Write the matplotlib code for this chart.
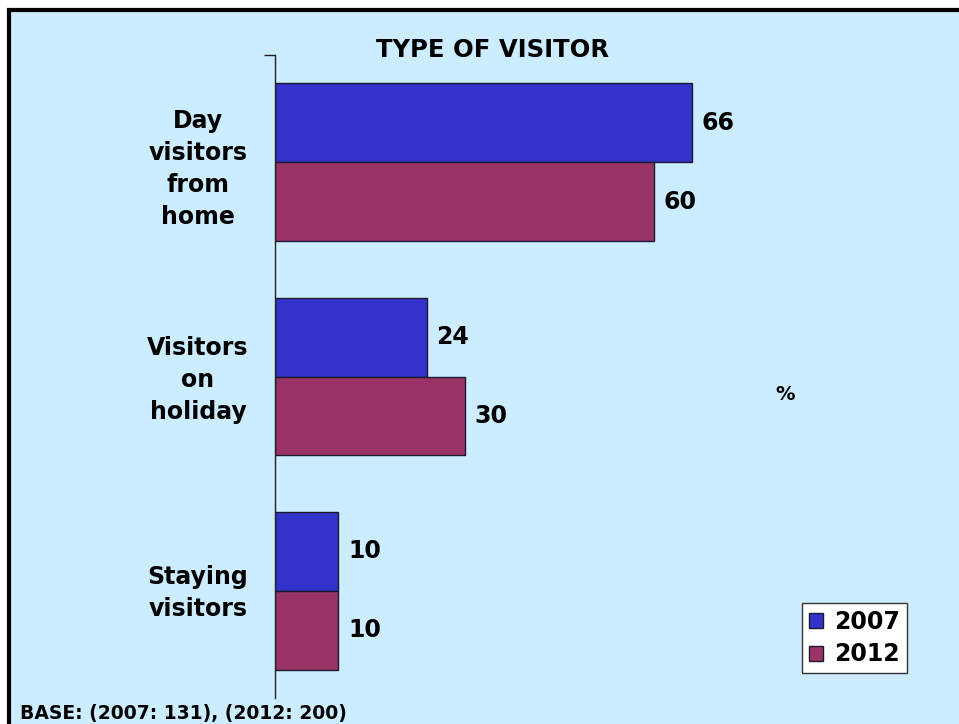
import matplotlib
matplotlib.use('Agg')
import matplotlib.pyplot as plt
import matplotlib.patches as patches
import matplotlib.transforms as mtransforms
import numpy as np

plt.rcParams['font.family'] = ['DejaVu Sans']
plt.rcParams['font.weight'] = 'bold'

# data
categories = ['Day\nvisitors\nfrom\nhome', 'Visitors\non\nholiday', 'Staying\nvisitors']
years = ['2007', '2012']
values_2007 = [66, 24, 10]
values_2012 = [60, 30, 10]
bar_colors = ['#3333CC', '#993366']

W, H = 959, 724
FS = 17
fig = plt.figure(figsize=(W / 100, H / 100), dpi=100)
fig.patch.set_facecolor('white')

# light blue panel with black frame (left and top edges visible)
bg = patches.Rectangle((9 / W, -0.1), 1.2, 1 - 10 / H + 0.1,
                       transform=fig.transFigure, facecolor='#CCECFF',
                       edgecolor='black', linewidth=3, zorder=-10)
fig.patches.append(bg)

ax_left, ax_right = 275, 945
ax_top, ax_bot = 55, 698
ax = fig.add_axes([ax_left / W, (H - ax_bot) / H,
                   (ax_right - ax_left) / W, (ax_bot - ax_top) / H])
ax.set_facecolor('none')

y = np.arange(len(categories))
bh = 0.368
series = [values_2007, values_2012]
offsets = [-bh / 2, bh / 2]
for vals, off, col, yr in zip(series, offsets, bar_colors, years):
    bars = ax.barh(y + off, vals, height=bh, color=col, edgecolor='#1a1a2e',
                   linewidth=1, label=yr)
    for b, v in zip(bars, vals):
        ax.annotate(str(v), xy=(v, b.get_y() + b.get_height() / 2),
                    xytext=(7, 0), textcoords='offset points',
                    ha='left', va='center', fontsize=FS, fontweight='bold')

ax.set_xlim(0, (ax_right - ax_left) / 6.32)
ax.set_ylim(2.5, -0.5)

for s in ['top', 'right', 'bottom']:
    ax.spines[s].set_visible(False)
ax.spines['left'].set_color('#222222')
ax.spines['left'].set_linewidth(1)
ax.set_xticks([])
ax.set_yticks([-0.5])
ax.set_yticklabels([''])
ax.tick_params(axis='y', length=8, width=1, color='#222222', direction='out')

# category labels, centred to the left of the axis
trans = mtransforms.blended_transform_factory(ax.transAxes, ax.transData)
label_shift = [0.03, 0.015, 0.01]
for yi, cat, sh in zip(y, categories, label_shift):
    ax.text(-77 / (ax_right - ax_left), yi + sh, cat, transform=trans,
            ha='center', va='center', multialignment='center',
            fontsize=FS, fontweight='bold', linespacing=1.42)

fig.text(492 / W, 1 - 50 / H, 'TYPE OF VISITOR', ha='center', va='center',
         fontsize=17.5, fontweight='bold')
fig.text(785 / W, 1 - 395 / H, '%', ha='center', va='center',
         fontsize=14, fontweight='bold')
fig.text(20 / W, 1 - 713 / H, 'BASE: (2007: 131), (2012: 200)', ha='left',
         va='center', fontsize=13.5, fontweight='bold')

leg = ax.legend(loc='upper right', bbox_to_anchor=(907 / W, 1 - 603 / H),
                bbox_transform=fig.transFigure, fontsize=FS, frameon=True,
                fancybox=False, handlelength=0.6, handleheight=0.6,
                handletextpad=0.45, borderpad=0.3, labelspacing=0.35,
                borderaxespad=0)
leg.get_frame().set_edgecolor('#333333')
leg.get_frame().set_linewidth(1)
leg.get_frame().set_facecolor('white')
leg.get_frame().set_alpha(1)
for t in leg.get_texts():
    t.set_fontweight('bold')

fig.savefig('out.png', dpi=100)
